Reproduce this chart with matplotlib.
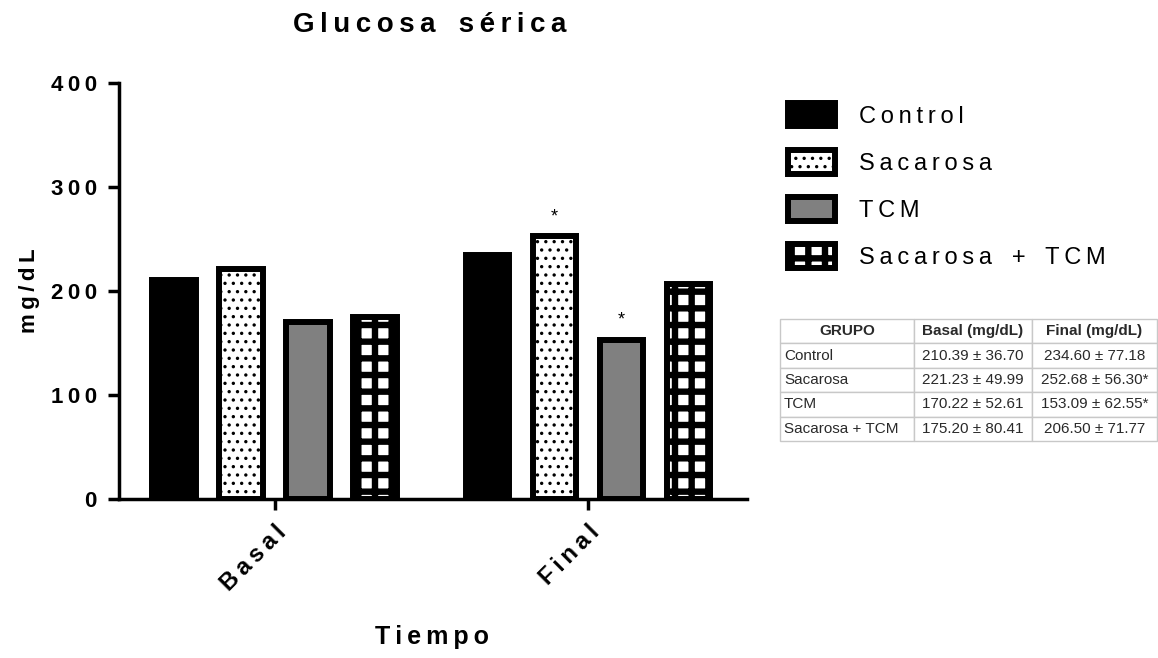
import numpy as np
import matplotlib
matplotlib.use("Agg")
import matplotlib.pyplot as plt

plt.rcParams['font.family'] = ['Liberation Sans', 'DejaVu Sans']

# data
tiempos = ['Basal', 'Final']
grupos = ['Control', 'Sacarosa', 'TCM', 'Sacarosa + TCM']
basal = [210.39, 221.23, 170.22, 175.20]
final = [234.60, 252.68, 153.09, 206.50]
basal_sd = [36.70, 49.99, 52.61, 80.41]
final_sd = [77.18, 56.30, 62.55, 71.77]
significativo = [False, True, True, False]   # '*' on the final values
y_ticks = [0, 100, 200, 300, 400]

colors = ['black', 'white', '#808080', 'white']
hatches = [None, '..', None, '+']
hatch_lw = [1.0, 1.2, 1.0, 4.6]


def spaced(s):
    # wide letter spacing like the original graph software
    return '\u2009'.join(s).replace('\u2009 \u2009', '   ')


fig = plt.figure(figsize=(11.58, 6.58), dpi=100)
ax = fig.add_axes([119 / 1158, 1 - 499 / 658, 628 / 1158, 416 / 658])

x = np.arange(len(tiempos))
offsets = [-0.321, -0.107, 0.107, 0.321]
width = 0.14
handles = []
for i, g in enumerate(grupos):
    vals = [basal[i], final[i]]
    with plt.rc_context({'hatch.linewidth': hatch_lw[i]}):
        bars = ax.bar(x + offsets[i], vals, width, color=colors[i],
                      edgecolor='black', linewidth=4.3, hatch=hatches[i],
                      label=spaced(g))
    for p in bars:
        if hasattr(p, 'set_hatch_linewidth'):
            p.set_hatch_linewidth(hatch_lw[i])
    handles.append(bars)
    if significativo[i]:
        ax.annotate('*', (x[1] + offsets[i], final[i]), xytext=(0, 8),
                    textcoords='offset points', ha='center', va='bottom',
                    fontsize=13)

ax.set_xlim(-0.498, 1.508)
ax.set_ylim(0, 400)
ax.set_yticks(y_ticks)
ax.set_yticklabels([spaced(str(t)) for t in y_ticks], fontsize=16, fontweight='bold')
ax.set_xticks(x)
ax.set_xticklabels([spaced(t) for t in tiempos], rotation=45, ha='right',
                   rotation_mode='anchor', fontsize=17, fontweight='bold')
for s in ['top', 'right']:
    ax.spines[s].set_visible(False)
for s in ['left', 'bottom']:
    ax.spines[s].set_linewidth(2.5)
ax.tick_params(length=8, width=2.5, pad=8)

fig.text(30 / 1158, 1 - 291 / 658, spaced('mg/dL'), fontsize=16,
         fontweight='bold', rotation=90, ha='center', va='center')
fig.text(432 / 1158, 1 - 637 / 658, spaced('Tiempo'), fontsize=18,
         fontweight='bold', ha='center', va='center')
fig.text(430 / 1158, 1 - 25 / 658, spaced('Glucosa sérica'),
         fontsize=20, fontweight='bold', ha='center', va='center')

leg = fig.legend(handles=handles, loc='upper left',
                 bbox_to_anchor=(788 / 1158, 1 - 103 / 658), frameon=False,
                 fontsize=17, handlelength=2.0, handleheight=1.15,
                 labelspacing=0.95, handletextpad=1.0, borderpad=0,
                 borderaxespad=0)
for p, lw in zip(leg.get_patches(), hatch_lw):
    if hasattr(p, 'set_hatch_linewidth'):
        p.set_hatch_linewidth(lw)

# summary table
tab_ax = fig.add_axes([780 / 1158, 1 - 441 / 658, 377 / 1158, 122 / 658])
tab_ax.axis('off')
rows = [[g, f'{b:.2f} ± {bs:.2f}', f'{f:.2f} ± {fs:.2f}' + ('*' if sig else '')]
        for g, b, bs, f, fs, sig in zip(grupos, basal, basal_sd, final, final_sd, significativo)]
tbl = tab_ax.table(cellText=rows,
                   colLabels=['GRUPO', 'Basal (mg/dL)', 'Final (mg/dL)'],
                   colWidths=[134, 118, 125], bbox=[0, 0, 1, 1])
tbl.auto_set_font_size(False)
for (r, c), cell in tbl.get_celld().items():
    cell.set_edgecolor('#c8c8c8')
    cell.set_linewidth(1.0)
    cell.PAD = 0.03
    cell.get_text().set_fontsize(11)
    cell.get_text().set_color('#2a2a2a')
    if r == 0:
        cell.get_text().set_fontweight('bold')
        cell.get_text().set_ha('center')
        cell._loc = 'center'
    elif c == 0:
        cell._loc = 'left'
        cell.get_text().set_ha('left')
    else:
        cell._loc = 'center'
        cell.get_text().set_ha('center')

fig.savefig('out.png', dpi=100)
